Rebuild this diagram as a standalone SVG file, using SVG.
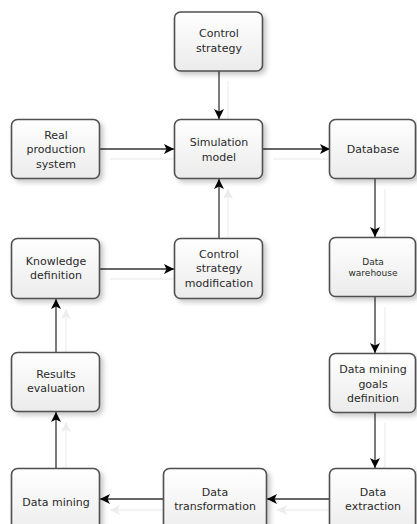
<svg xmlns="http://www.w3.org/2000/svg" width="417" height="524" viewBox="0 0 417 524">
<style>
.box{fill:url(#g);stroke:#505050;stroke-width:1.6;filter:url(#sh)}
.t{font-family:"DejaVu Sans","Liberation Sans",Arial,sans-serif;font-size:11px;fill:#2a2a2a;text-anchor:middle}
.s{font-size:9px}
.c{fill:none;stroke:#333;stroke-width:1.3;marker-end:url(#ah)}
.gc{fill:none;stroke:#efefef;stroke-width:1.3;marker-end:url(#gah)}
</style>
<defs>
<linearGradient id="g" x1="0" y1="0" x2="0" y2="1">
<stop offset="0" stop-color="#ffffff"/>
<stop offset="1" stop-color="#ebebeb"/>
</linearGradient>
<filter id="sh" x="-20%" y="-20%" width="150%" height="150%">
<feDropShadow dx="3" dy="3" stdDeviation="2.5" flood-color="#000" flood-opacity="0.22"/>
</filter>
<marker id="ah" viewBox="0 0 10 10" refX="10" refY="5" markerWidth="10" markerHeight="10" markerUnits="userSpaceOnUse" orient="auto">
<path d="M0,0 L10,5 L0,10 L2.5,5 z" fill="#000"/>
</marker>
<marker id="gah" viewBox="0 0 10 10" refX="10" refY="5" markerWidth="10" markerHeight="10" markerUnits="userSpaceOnUse" orient="auto">
<path d="M0,0 L10,5 L0,10 L2.5,5 z" fill="#ececec"/>
</marker>
</defs>
<rect width="417" height="524" fill="#fff"/>
<g id="connectors">
<g id="connector-shadows">
<path class="gc" d="M228,81 V129"/>
<path class="gc" d="M110,159 H184"/>
<path class="gc" d="M273,159 H340"/>
<path class="gc" d="M385,189 V247"/>
<path class="gc" d="M385,307 V363"/>
<path class="gc" d="M385,423 V478"/>
<path class="gc" d="M340,510 H277"/>
<path class="gc" d="M173,510 H110"/>
<path class="gc" d="M66,479 V422"/>
<path class="gc" d="M66,362 V309"/>
<path class="gc" d="M110,279 H184"/>
<path class="gc" d="M228,248 V189"/>
</g>
<path class="c" d="M219,71 V119"/>
<path class="c" d="M100,149 H174"/>
<path class="c" d="M263,149 H330"/>
<path class="c" d="M375,179 V237"/>
<path class="c" d="M375,297 V353"/>
<path class="c" d="M375,413 V468"/>
<path class="c" d="M330,499 H267"/>
<path class="c" d="M163,499 H100"/>
<path class="c" d="M56,469 V412"/>
<path class="c" d="M56,352 V299"/>
<path class="c" d="M100,269 H174"/>
<path class="c" d="M219,238 V179"/>
</g>
<g id="control-strategy">
<rect class="box" x="174.5" y="12" width="88" height="59" rx="6"/>
<text class="t" x="219" y="37">Control</text>
<text class="t" x="219" y="52">strategy</text>
</g>
<g id="simulation-model">
<rect class="box" x="174.5" y="119.5" width="88" height="59" rx="6"/>
<text class="t" x="219" y="146">Simulation</text>
<text class="t" x="219" y="161">model</text>
</g>
<g id="real-production-system">
<rect class="box" x="11.5" y="119.5" width="88" height="59" rx="6"/>
<text class="t" x="56" y="139">Real</text>
<text class="t" x="56" y="153">production</text>
<text class="t" x="56" y="168">system</text>
</g>
<g id="database">
<rect class="box" x="329.5" y="119.5" width="86" height="59" rx="6"/>
<text class="t" x="373" y="153">Database</text>
</g>
<g id="knowledge-definition">
<rect class="box" x="11.5" y="238.5" width="88" height="60" rx="6"/>
<text class="t" x="56" y="265">Knowledge</text>
<text class="t" x="56" y="279">definition</text>
</g>
<g id="control-strategy-modification">
<rect class="box" x="174.5" y="238.5" width="88" height="60" rx="6"/>
<text class="t" x="219" y="258">Control</text>
<text class="t" x="219" y="272">strategy</text>
<text class="t" x="219" y="287">modification</text>
</g>
<g id="data-warehouse">
<rect class="box" x="329.5" y="237.5" width="86" height="59" rx="6"/>
<text class="t s" x="373" y="265">Data</text>
<text class="t s" x="373" y="276">warehouse</text>
</g>
<g id="results-evaluation">
<rect class="box" x="11.5" y="352.5" width="88" height="59" rx="6"/>
<text class="t" x="56" y="378">Results</text>
<text class="t" x="56" y="392">evaluation</text>
</g>
<g id="data-mining-goals-definition">
<rect class="box" x="329.5" y="353.5" width="86" height="59" rx="6"/>
<text class="t" x="373" y="373">Data mining</text>
<text class="t" x="373" y="388">goals</text>
<text class="t" x="373" y="402">definition</text>
</g>
<g id="data-mining">
<rect class="box" x="11.5" y="468.5" width="88" height="70" rx="6"/>
<text class="t" x="56" y="506">Data mining</text>
</g>
<g id="data-transformation">
<rect class="box" x="163.5" y="468.5" width="103" height="70" rx="6"/>
<text class="t" x="215" y="496">Data</text>
<text class="t" x="215" y="510">transformation</text>
</g>
<g id="data-extraction">
<rect class="box" x="329.5" y="468.5" width="86" height="70" rx="6"/>
<text class="t" x="373" y="496">Data</text>
<text class="t" x="373" y="510">extraction</text>
</g>
</svg>
